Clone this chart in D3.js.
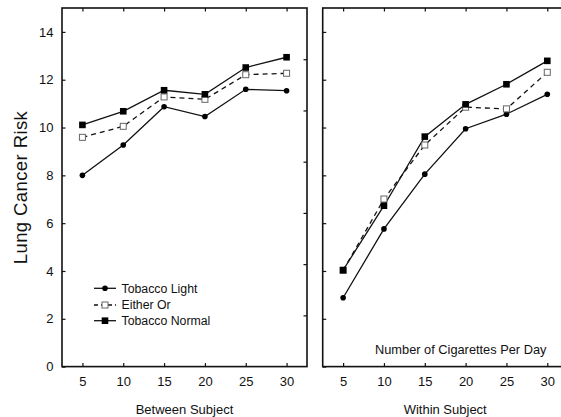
<!DOCTYPE html>
<html><head><meta charset="utf-8">
<script src="https://cdn.jsdelivr.net/npm/d3@7"></script>
<style>
html,body{margin:0;padding:0;background:#fff;}
svg{display:block;}
text{font-family:"Liberation Sans",Arial,sans-serif;fill:#111;}
</style></head>
<body>
<svg id="c" width="561" height="417"></svg>
<script>
const cigarettes = [5, 10, 15, 20, 25, 30];
const yTicks = [0, 2, 4, 6, 8, 10, 12, 14];
const seriesNames = ["Tobacco Light", "Either Or", "Tobacco Normal"];
// Between Subject panel
const betweenLight  = [8.0, 9.27, 10.87, 10.46, 11.60, 11.54];
const betweenEither = [9.59, 10.05, 11.28, 11.18, 12.21, 12.27];
const betweenNormal = [10.11, 10.68, 11.56, 11.39, 12.51, 12.94];
// Within Subject panel
const withinLight  = [2.88, 5.76, 8.05, 9.95, 10.56, 11.39];
const withinEither = [4.02, 7.01, 9.27, 10.85, 10.78, 12.31];
const withinNormal = [4.04, 6.73, 9.62, 10.97, 11.81, 12.79];

const svg = d3.select("#c");
const plotTop = 8, plotBottom = 366.6;
const y = d3.scaleLinear().domain([0, 15]).range([plotBottom, plotTop]);
const yRight = d3.scaleLinear().domain([0, 14]).range([plotBottom, plotTop]);

const panels = [
  {x0: 62, x1: 307, title: "Between Subject", data: [betweenLight, betweenEither, betweenNormal], labels: true},
  {x0: 322.7, x1: 567.7, title: "Within Subject", data: [withinLight, withinEither, withinNormal], labels: false}
];

const styles = [
  {dash: null, marker: "circle"},
  {dash: "5,4", marker: "open"},
  {dash: null, marker: "square"}
];

function drawMarker(g, type, cx, cy) {
  if (type === "circle") {
    g.append("circle").attr("cx", cx).attr("cy", cy).attr("r", 2.8).attr("fill", "#000");
  } else if (type === "open") {
    g.append("rect").attr("x", cx - 3).attr("y", cy - 3).attr("width", 6).attr("height", 6)
      .attr("fill", "#fff").attr("stroke", "#666").attr("stroke-width", 1);
  } else {
    g.append("rect").attr("x", cx - 3.3).attr("y", cy - 3.3).attr("width", 6.6).attr("height", 6.6).attr("fill", "#000");
  }
}

panels.forEach((p, pi) => {
  const x = d3.scaleLinear().domain([2.5, 32.5]).range([p.x0, p.x1]);
  const g = svg.append("g");

  const bx = g.append("g").attr("transform", `translate(0,${plotBottom})`)
    .call(d3.axisBottom(x).tickValues(cigarettes).tickSizeInner(-3.5).tickSizeOuter(0).tickPadding(10));
  bx.selectAll("text").attr("font-size", "13px").attr("dy", "0.71em").attr("fill", "#111");
  g.append("g").attr("transform", `translate(0,${plotTop})`)
    .call(d3.axisTop(x).tickValues(cigarettes).tickSizeInner(-3.5).tickSizeOuter(0).tickFormat(""));
  const lx = g.append("g").attr("transform", `translate(${p.x0},0)`)
    .call(d3.axisLeft(y).tickValues(yTicks).tickSizeInner(-3.5).tickSizeOuter(0).tickPadding(8.5)
      .tickFormat(p.labels ? d3.format("d") : ""));
  lx.selectAll("text").attr("font-size", "13px").attr("fill", "#111");
  g.append("g").attr("transform", `translate(${p.x1},0)`)
    .call(d3.axisRight(yRight).tickValues([2, 4, 6, 8, 10, 12]).tickSizeInner(-3.5).tickSizeOuter(0).tickFormat(""));

  g.selectAll(".domain").remove();
  g.selectAll(".tick line").attr("stroke", "#111").attr("stroke-width", 1.2);
  g.selectAll(".tick text").attr("font-family", "Liberation Sans, Arial, sans-serif");

  g.append("rect").attr("x", p.x0).attr("y", plotTop).attr("width", p.x1 - p.x0).attr("height", plotBottom - plotTop)
    .attr("fill", "none").attr("stroke", "#111").attr("stroke-width", 1.6);

  const line = d3.line().x((d, i) => x(cigarettes[i])).y(d => y(d));
  p.data.forEach((vals, si) => {
    g.append("path").datum(vals).attr("d", line).attr("fill", "none")
      .attr("stroke", "#111").attr("stroke-width", 1.3)
      .attr("stroke-dasharray", styles[si].dash);
  });
  p.data.forEach((vals, si) => {
    vals.forEach((v, i) => drawMarker(g, styles[si].marker, x(cigarettes[i]), y(v)));
  });

  g.append("text").attr("x", (p.x0 + p.x1) / 2).attr("y", 414).attr("text-anchor", "middle")
    .attr("font-size", "13px").text(p.title);

  if (pi === 1) {
    g.append("text").attr("x", 375).attr("y", 354).attr("font-size", "12.8px").text("Number of Cigarettes Per Day");
  }

  if (pi === 0) {
    const leg = g.append("g");
    const rows = [288.3, 305, 320.7];
    seriesNames.forEach((name, si) => {
      leg.append("line").attr("x1", 94).attr("x2", 116).attr("y1", rows[si]).attr("y2", rows[si])
        .attr("stroke", "#111").attr("stroke-width", 1.3).attr("stroke-dasharray", si === 1 ? "4,3" : null);
      drawMarker(leg, styles[si].marker, 105, rows[si]);
      leg.append("text").attr("x", 121.5).attr("y", rows[si]).attr("dy", "0.36em")
        .attr("font-size", "12.3px").text(name);
    });
  }
});

svg.append("text").attr("transform", "translate(27,187.5) rotate(-90)").attr("text-anchor", "middle")
  .attr("font-size", "18.5px").attr("letter-spacing", "0.4px").text("Lung Cancer Risk");
</script>
</body></html>
